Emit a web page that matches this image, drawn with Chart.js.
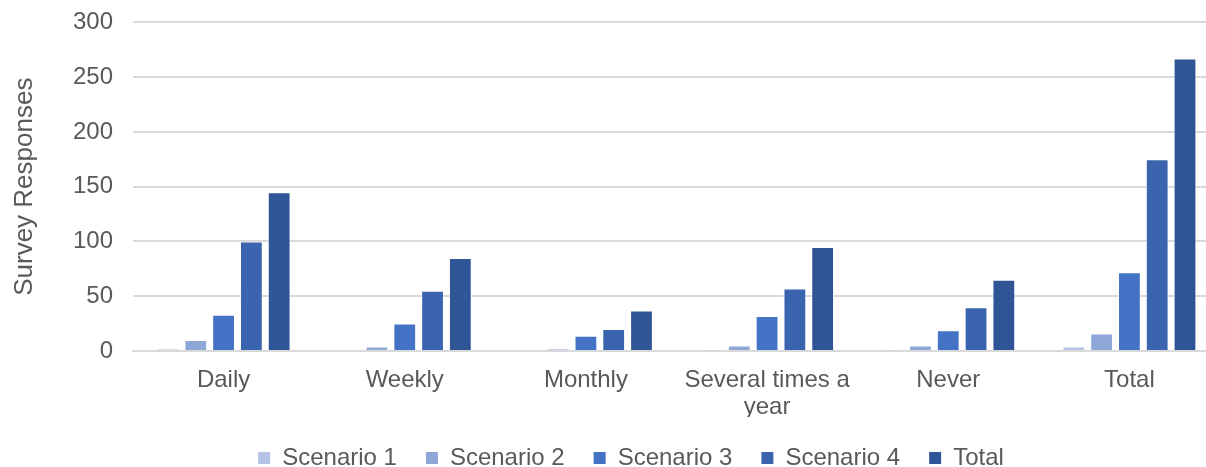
<!DOCTYPE html>
<html>
<head>
<meta charset="utf-8">
<script src="https://cdn.jsdelivr.net/npm/chart.js@4/dist/chart.umd.min.js"></script>
<style>
  html, body { margin: 0; padding: 0; background: #ffffff; overflow: hidden; }
  #wrap { width: 1206px; height: 467px; overflow: hidden; position: relative; }
  canvas { display: block; position: absolute; left: 0; top: -12px; }
</style>
</head>
<body>
<div id="wrap"><canvas id="c" width="1258" height="492"></canvas></div>
<script>
// Response frequency categories
const categories = ['Daily', 'Weekly', 'Monthly', ['Several times a', 'year'], 'Never', 'Total'];

// Survey responses per scenario
const scenario1 = [2, 1, 1, 0.5, 0.5, 4];
const scenario2 = [10, 4, 2, 5, 5, 16];
const scenario3 = [33, 25, 14, 32, 19, 72];
const scenario4 = [100, 55, 20, 57, 40, 175];
const totals    = [145, 85, 37, 95, 65, 267];

const seriesNames = ['Scenario 1', 'Scenario 2', 'Scenario 3', 'Scenario 4', 'Total'];
const seriesColors = ['#B4C2E5', '#8FA6D8', '#4472C4', '#3A64AD', '#2F5597'];
const seriesValues = [scenario1, scenario2, scenario3, scenario4, totals];

const yTicks = [0, 50, 100, 150, 200, 250, 300];

const textColor = '#595959';
const gridColor = '#D9D9D9';
const fontFamily = "'Liberation Sans', Arial, sans-serif";

// Left inset keeps the legend row centred under the bars; the y axis fills the rest
const leftInset = 42;
const plotLeft = 133;

const datasets = seriesNames.map((name, i) => ({
  label: name,
  data: seriesValues[i],
  backgroundColor: seriesColors[i],
  borderColor: 'rgba(255,255,255,0.55)',
  borderWidth: 1,
  categoryPercentage: 0.767,
  barPercentage: 0.82
}));

new Chart(document.getElementById('c'), {
  type: 'bar',
  data: { labels: categories, datasets },
  options: {
    responsive: false,
    devicePixelRatio: 1,
    animation: false,
    layout: { padding: { top: 0, right: 38, bottom: 0, left: leftInset } },
    plugins: {
      tooltip: { enabled: false },
      legend: {
        position: 'bottom',
        labels: {
          color: textColor,
          font: { family: fontFamily, size: 24 },
          boxWidth: 12,
          boxHeight: 12,
          padding: 29,
          generateLabels(chart) {
            return chart.data.datasets.map((ds, i) => ({
              text: ds.label,
              fillStyle: ds.backgroundColor,
              strokeStyle: ds.backgroundColor,
              lineWidth: 0,
              hidden: false,
              datasetIndex: i,
              fontColor: textColor
            }));
          }
        }
      }
    },
    scales: {
      x: {
        grid: { display: false, drawTicks: false },
        border: { display: true, color: gridColor, width: 2 },
        ticks: {
          color: textColor,
          font: { family: fontFamily, size: 24, lineHeight: 1.125 },
          padding: 16,
          maxRotation: 0,
          autoSkip: false
        },
        afterFit(scale) { scale.height = 66; }
      },
      y: {
        min: 0,
        max: 300,
        afterBuildTicks(scale) { scale.ticks = yTicks.map(v => ({ value: v })); },
        grid: { color: gridColor, lineWidth: 2, drawTicks: false },
        border: { display: false },
        ticks: {
          color: textColor,
          font: { family: fontFamily, size: 24 },
          padding: 20
        },
        title: {
          display: true,
          text: 'Survey Responses',
          color: textColor,
          font: { family: fontFamily, size: 26 },
          padding: { top: 9 - leftInset, bottom: 0 }
        },
        afterFit(scale) { scale.width = plotLeft - leftInset; }
      }
    }
  }
});
</script>
</body>
</html>
